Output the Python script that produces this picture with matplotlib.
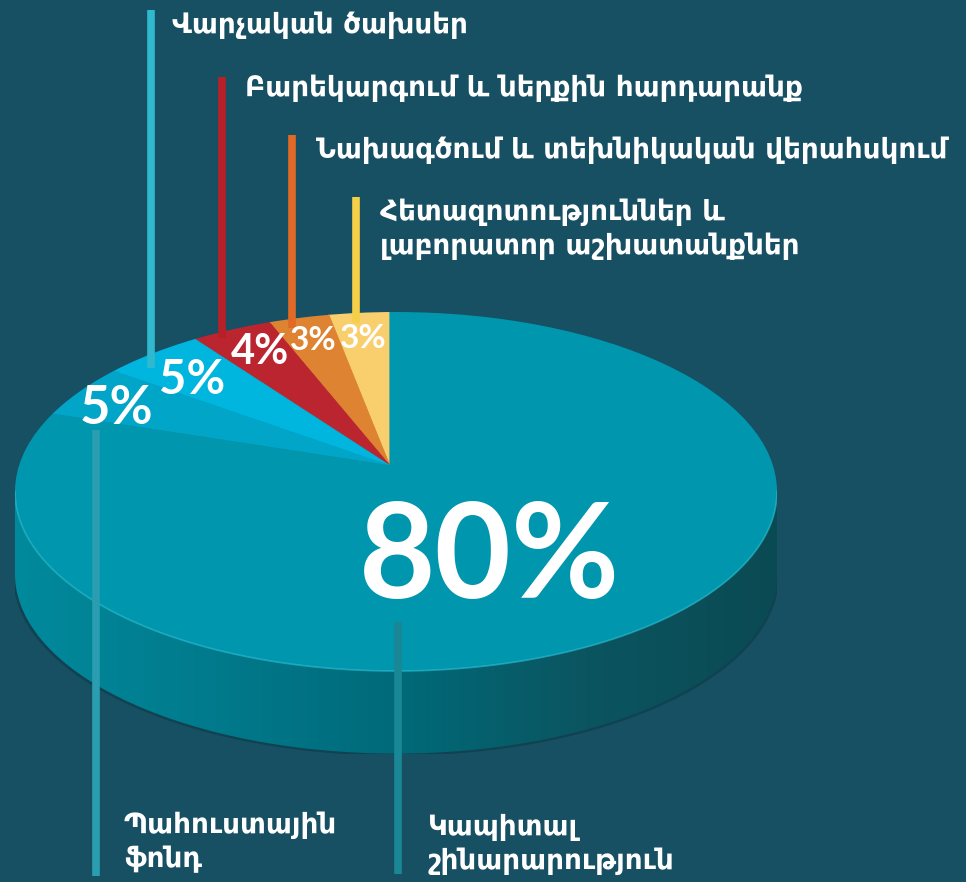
import numpy as np
import matplotlib
matplotlib.use('Agg')
import matplotlib.pyplot as plt
from matplotlib.patches import Polygon, Circle

# data (counter-clockwise from 12 o'clock)
categories = ['Հետազոտություններ և\nլաբորատոր աշխատանքներ',
              'Նախագծում և տեխնիկական վերահսկում',
              'Բարեկարգում և ներքին հարդարանք',
              'Վարչական ծախսեր',
              'Պահուստային\nֆոնդ',
              'Կապիտալ\nշինարարություն']
shares = [3, 3, 4, 5, 5, 80]
pct_labels = ['3%', '3%', '4%', '5%', '5%', '80%']

face_colors = ['#f9cf6d', '#de8332', '#bb2530', '#00b5de', '#00a5c8', '#0096ad']
line_colors = ['#f5cf48', '#e06a26', '#b82027', '#2fb9cf', '#2a9db0', '#1a8797']

bg = '#174f63'
W, H = 966, 882
fig = plt.figure(figsize=(W / 100, H / 100), dpi=100, facecolor=bg)

# pie axes: unit circle stretched into the ellipse of the top face
depth = 0.46
top_px, face_h, face_w, left_px = 312, 359, 762, 15
ax_h = face_h * (1 + depth / 2)
axp = fig.add_axes([left_px / W, (H - top_px - ax_h) / H, face_w / W, ax_h / H])
axp.set_facecolor('none')

# side of the cylinder
t = np.linspace(np.pi, 2 * np.pi, 200)
xs = np.concatenate([np.cos(t), np.cos(t[::-1])])
ys = np.concatenate([np.sin(t), np.sin(t[::-1]) - depth])
side = Polygon(np.column_stack([xs, ys]), closed=True, facecolor='none', edgecolor='none')
axp.add_patch(side)
grad = np.linspace(0, 1, 256).reshape(1, -1)
cmap = matplotlib.colors.LinearSegmentedColormap.from_list(
    'side', ['#008a9c', '#007b8d', '#006a79', '#0b5560', '#0a4a53'])
im = axp.imshow(grad, extent=[-1, 1, -1 - depth, 0], cmap=cmap, aspect='auto', zorder=1)
im.set_clip_path(side)
shadow = Polygon(np.column_stack([xs * 1.005, ys - 0.012]), closed=True,
                 facecolor='#0d3a47', edgecolor='none', alpha=0.6, zorder=0.5)
axp.add_patch(shadow)

# top face: wedge tip sits a bit behind the ellipse centre (perspective),
# wedges clipped to the ellipse
rim = Circle((0, 0), 1, facecolor='none', edgecolor='none')
axp.add_patch(rim)
wedges, _ = axp.pie(shares, colors=face_colors, startangle=90, counterclock=True,
                    radius=1.25, center=(-0.016, 0.144),
                    wedgeprops=dict(linewidth=0.6))
for w, c in zip(wedges, face_colors):
    w.set_edgecolor(c)
    w.set_zorder(2)
    w.set_clip_on(True)
    w.set_clip_path(rim)
axp.plot(np.cos(t), np.sin(t), color='#2fc3d6', lw=1.2, alpha=0.6, zorder=3)
axp.set_aspect('auto')
axp.set_xlim(-1, 1)
axp.set_ylim(-1 - depth, 1)
axp.axis('off')

# overlay in pixel coordinates for lines and texts
ax = fig.add_axes([0, 0, 1, 1], zorder=5)
ax.set_xlim(0, W)
ax.set_ylim(H, 0)
ax.axis('off')
ax.patch.set_alpha(0)

fam = ['DejaVu Sans']
# leader lines: x, y_top, y_bottom
leaders = [(356, 197, 323), (292, 135, 328), (222, 77, 338), (151, 10, 368),
           (96, 430, 876), (398, 622, 874)]
for (x, y0, y1), c in zip(leaders, line_colors):
    ax.plot([x, x], [y0, y1], color=c, lw=5.5, solid_capstyle='butt', zorder=1)

# category labels
label_pos = [(380, 229), (316, 150), (245, 88), (172, 25), (124, 842), (428, 844)]
for (x, y), txt in zip(label_pos, categories):
    ax.text(x, y, txt, color='white', fontsize=20, fontweight='bold', family=fam,
            ha='left', va='center', linespacing=1.3)

# percentage labels
pct_pos = [(363, 338), (313, 340), (260, 352), (192, 380), (117, 409), (490, 560)]
pct_size = [24, 24, 30, 34, 38, 95]
for (x, y), s, fs in zip(pct_pos, pct_labels, pct_size):
    ax.text(x, y, s, color='white', fontsize=fs, fontweight='bold',
            family=['Lato', 'DejaVu Sans'], ha='center', va='center')

fig.savefig('out.png', dpi=100, facecolor=bg)
